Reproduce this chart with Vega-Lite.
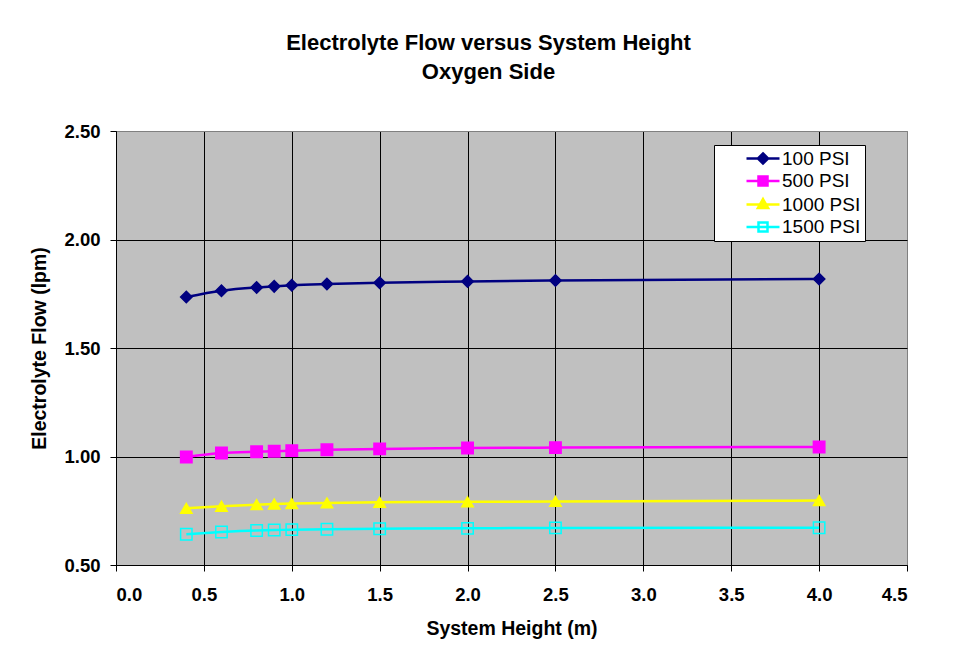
{
  "$schema": "https://vega.github.io/schema/vega-lite/v6.json",
  "autosize": {"type": "none"},
  "width": 791,
  "height": 434,
  "padding": {"left": 116, "top": 131, "right": 51, "bottom": 96},
  "background": "white",
  "title": {
    "text": ["Electrolyte Flow versus System Height", "Oxygen Side"],
    "font": "Liberation Sans",
    "fontSize": 22,
    "fontWeight": "bold",
    "color": "black",
    "lineHeight": 29,
    "anchor": "middle",
    "frame": "group",
    "dx": -23,
    "offset": 38
  },
  "data": {
    "values": [
      {"series": "100 PSI", "h": 0.4, "flow": 1.735},
      {"series": "100 PSI", "h": 0.6, "flow": 1.764},
      {"series": "100 PSI", "h": 0.8, "flow": 1.779},
      {"series": "100 PSI", "h": 0.9, "flow": 1.784},
      {"series": "100 PSI", "h": 1.0, "flow": 1.789},
      {"series": "100 PSI", "h": 1.2, "flow": 1.795},
      {"series": "100 PSI", "h": 1.5, "flow": 1.801},
      {"series": "100 PSI", "h": 2.0, "flow": 1.807},
      {"series": "100 PSI", "h": 2.5, "flow": 1.811},
      {"series": "100 PSI", "h": 4.0, "flow": 1.818},
      {"series": "500 PSI", "h": 0.4, "flow": 0.998},
      {"series": "500 PSI", "h": 0.6, "flow": 1.016},
      {"series": "500 PSI", "h": 0.8, "flow": 1.022},
      {"series": "500 PSI", "h": 0.9, "flow": 1.024},
      {"series": "500 PSI", "h": 1.0, "flow": 1.027},
      {"series": "500 PSI", "h": 1.2, "flow": 1.031},
      {"series": "500 PSI", "h": 1.5, "flow": 1.035},
      {"series": "500 PSI", "h": 2.0, "flow": 1.039},
      {"series": "500 PSI", "h": 2.5, "flow": 1.041},
      {"series": "500 PSI", "h": 4.0, "flow": 1.044},
      {"series": "1000 PSI", "h": 0.4, "flow": 0.761},
      {"series": "1000 PSI", "h": 0.6, "flow": 0.771},
      {"series": "1000 PSI", "h": 0.8, "flow": 0.778},
      {"series": "1000 PSI", "h": 0.9, "flow": 0.781},
      {"series": "1000 PSI", "h": 1.0, "flow": 0.783},
      {"series": "1000 PSI", "h": 1.2, "flow": 0.786},
      {"series": "1000 PSI", "h": 1.5, "flow": 0.789},
      {"series": "1000 PSI", "h": 2.0, "flow": 0.791},
      {"series": "1000 PSI", "h": 2.5, "flow": 0.793},
      {"series": "1000 PSI", "h": 4.0, "flow": 0.797},
      {"series": "1500 PSI", "h": 0.4, "flow": 0.642},
      {"series": "1500 PSI", "h": 0.6, "flow": 0.652},
      {"series": "1500 PSI", "h": 0.8, "flow": 0.659},
      {"series": "1500 PSI", "h": 0.9, "flow": 0.661},
      {"series": "1500 PSI", "h": 1.0, "flow": 0.663},
      {"series": "1500 PSI", "h": 1.2, "flow": 0.665},
      {"series": "1500 PSI", "h": 1.5, "flow": 0.667},
      {"series": "1500 PSI", "h": 2.0, "flow": 0.669},
      {"series": "1500 PSI", "h": 2.5, "flow": 0.671},
      {"series": "1500 PSI", "h": 4.0, "flow": 0.672}
    ]
  },
  "encoding": {
    "x": {
      "field": "h",
      "type": "quantitative",
      "scale": {"domain": [0, 4.5], "nice": false, "zero": false},
      "axis": {
        "title": "System Height (m)",
        "values": [0, 0.5, 1, 1.5, 2, 2.5, 3, 3.5, 4, 4.5],
        "format": ".1f",
        "labelPadding": 14,
        "titlePadding": 16,
        "gridColor": {"condition": {"test": "datum.value >= 4.5", "value": "#808080"}, "value": "black"}
      }
    },
    "y": {
      "field": "flow",
      "type": "quantitative",
      "scale": {"domain": [0.5, 2.5], "nice": false, "zero": false},
      "axis": {
        "title": "Electrolyte Flow (lpm)",
        "values": [0.5, 1, 1.5, 2, 2.5],
        "format": ".2f",
        "labelPadding": 10,
        "titlePadding": 14,
        "gridColor": {"condition": {"test": "datum.value >= 2.5", "value": "#808080"}, "value": "black"}
      }
    }
  },
  "layer": [
    {
      "mark": {"type": "line", "strokeWidth": 2.5, "interpolate": "monotone"},
      "encoding": {
        "color": {
          "field": "series",
          "type": "nominal",
          "scale": {
            "domain": ["100 PSI", "500 PSI", "1000 PSI", "1500 PSI"],
            "range": ["#000080", "#FF00FF", "#FFFF00", "#00FFFF"]
          },
          "legend": {
            "title": null,
            "orient": "none",
            "legendX": 598,
            "legendY": 14,
            "padding": 4,
            "fillColor": "white",
            "strokeColor": "black",
            "labelFont": "Liberation Sans",
            "labelFontSize": 19,
            "labelFontWeight": "normal",
            "labelColor": "black",
            "labelLimit": 300,
            "labelOffset": 23,
            "symbolOffset": 22,
            "rowPadding": 2.5,
            "symbolSize": 144,
            "encode": {
              "symbols": {
                "update": {
                  "shape": {"signal": "datum.value === '100 PSI' ? 'M-0.5,0H5M2.25,-0.85L3.1,0L2.25,0.85L1.4,0Z' : datum.value === '1000 PSI' ? 'M-0.5,0H5M2.25,-0.9L3.1,0.6L1.4,0.6Z' : 'M-0.5,0H5M1.5,-0.75H3V0.75H1.5Z'"},
                  "fill": {"signal": "datum.value === '100 PSI' ? '#000080' : datum.value === '500 PSI' ? '#FF00FF' : datum.value === '1000 PSI' ? '#FFFF00' : 'transparent'"},
                  "strokeWidth": {"value": 2.5},
                  "size": {"value": 144},
                  "opacity": {"value": 1}
                }
              }
            }
          }
        }
      }
    },
    {
      "mark": {"type": "point", "size": 130, "strokeWidth": 1.5, "opacity": 1},
      "encoding": {
        "shape": {
          "field": "series",
          "type": "nominal",
          "scale": {"range": ["diamond", "triangle-up", "square", "square"]},
          "legend": null
        },
        "fill": {
          "field": "series",
          "type": "nominal",
          "scale": {"range": ["#000080", "#FFFF00", "transparent", "#FF00FF"]},
          "legend": null
        },
        "stroke": {
          "field": "series",
          "type": "nominal",
          "scale": {"range": ["#000080", "#FFFF00", "#00FFFF", "#FF00FF"]},
          "legend": null
        }
      }
    }
  ],
  "config": {
    "view": {"fill": "#C0C0C0", "stroke": "#808080", "strokeWidth": 1},
    "axis": {
      "grid": true,
      "gridWidth": 1,
      "gridOpacity": 1,
      "domainColor": "black",
      "domainWidth": 1,
      "tickColor": "black",
      "tickSize": 6,
      "tickWidth": 1,
      "labelFont": "Liberation Sans",
      "labelFontSize": 18.5,
      "labelFontWeight": "bold",
      "labelColor": "black",
      "titleFont": "Liberation Sans",
      "titleFontSize": 19.5,
      "titleFontWeight": "bold",
      "titleColor": "black"
    }
  }
}
